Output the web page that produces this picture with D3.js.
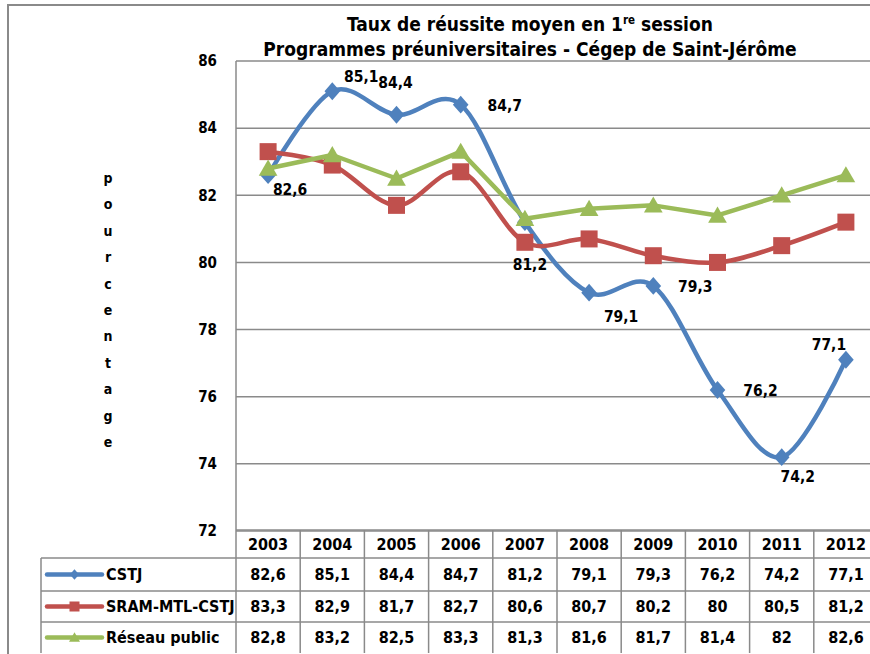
<!DOCTYPE html>
<html><head><meta charset="utf-8">
<script src="https://cdn.jsdelivr.net/npm/d3@7"></script>
<style>
html,body{margin:0;padding:0;background:#fff;}
svg{display:block;font-family:"DejaVu Sans Condensed","DejaVu Sans",sans-serif;font-weight:bold;}
</style></head>
<body>
<svg id="chart" width="870" height="654"></svg>
<script>
const years = ["2003","2004","2005","2006","2007","2008","2009","2010","2011","2012"];
const cstj = [82.6,85.1,84.4,84.7,81.2,79.1,79.3,76.2,74.2,77.1];
const sram = [83.3,82.9,81.7,82.7,80.6,80.7,80.2,80,80.5,81.2];
const reseau = [82.8,83.2,82.5,83.3,81.3,81.6,81.7,81.4,82,82.6];
const seriesNames = ["CSTJ","SRAM-MTL-CSTJ","Réseau public"];
const yTicks = [72,74,76,78,80,82,84,86];
const titleLines = ["Taux de réussite moyen en 1", "Programmes préuniversitaires - Cégep de Saint-Jérôme"];
const axisLabel = "pourcentage";
// label offsets for CSTJ data labels (layout only)
const labelOffsets = [[22,20],[29,-9],[-1,-27],[44,6],[5,48],[32,29],[42,6],[43,6],[16,25],[-17,-10]];

const colors = ["#4F81BD","#C0504D","#9BBB59"];
const grid = "#8a8a8a";
const svg = d3.select("#chart");

const x = d3.scaleBand().domain(years).range([236, 878]);
const y = d3.scaleLinear().domain([72,86]).range([531, 61]);
const cx = d => x(d) + x.bandwidth()/2;

// outer border
svg.append("rect").attr("x",8).attr("y",5).attr("width",900).attr("height",700)
  .attr("fill","none").attr("stroke",grid).attr("stroke-width",2);

// title
const t1 = svg.append("text").attr("x",530).attr("y",31).attr("text-anchor","middle")
  .attr("font-size",19).attr("fill","#000");
t1.append("tspan").text(titleLines[0]);
t1.append("tspan").attr("font-size",11.5).attr("dy",-7).text("re");
t1.append("tspan").attr("dy",7).text(" session");
svg.append("text").attr("x",530).attr("y",56).attr("text-anchor","middle")
  .attr("font-size",19).attr("fill","#000").text(titleLines[1]);

// gridlines
svg.append("g").selectAll("line").data(yTicks).join("line")
  .attr("x1",236).attr("x2",870).attr("y1",d=>y(d)).attr("y2",d=>y(d))
  .attr("stroke",grid).attr("stroke-width",1.5);
// y axis line
svg.append("line").attr("x1",236).attr("x2",236).attr("y1",y(86)).attr("y2",653)
  .attr("stroke",grid).attr("stroke-width",1.5);
// y tick labels
svg.append("g").selectAll("text").data(yTicks).join("text")
  .attr("x",217).attr("y",d=>y(d)).attr("dy","0.35em").attr("text-anchor","end")
  .attr("font-size",15).text(d=>d);
// axis title stacked letters
svg.append("g").selectAll("text").data(axisLabel.split("")).join("text")
  .attr("x",108).attr("y",(d,i)=>178 + i*26.4).attr("dy","0.35em").attr("text-anchor","middle")
  .attr("font-size",14).text(d=>d);

// marker generators
function marker(sel, type, s) {
  if (type === 0) {
    sel.append("path").attr("d", `M0,${-s*1.05}L${s*0.92},0L0,${s*1.05}L${-s*0.92},0Z`);
  } else if (type === 1) {
    sel.append("rect").attr("x",-s).attr("y",-s).attr("width",2*s).attr("height",2*s);
  } else {
    sel.append("path").attr("d", `M0,${-s*1.05}L${s*1.1},${s*0.85}L${-s*1.1},${s*0.85}Z`);
  }
}

const allSeries = [cstj, sram, reseau];
const curves = [d3.curveCardinal.tension(0), d3.curveCardinal.tension(0), d3.curveLinear];
[0,1,2].forEach(k => {
  const line = d3.line().x((d,i)=>cx(years[i])).y(d=>y(d)).curve(curves[k]);
  const g = svg.append("g");
  g.append("path").datum(allSeries[k]).attr("d", line).attr("fill","none")
    .attr("stroke",colors[k]).attr("stroke-width",4.5).attr("stroke-linejoin","round");
  allSeries[k].forEach((v,i) => {
    const m = g.append("g").attr("transform",`translate(${cx(years[i])},${y(v)})`).attr("fill",colors[k]);
    marker(m, k, 8.5);
  });
});

// CSTJ data labels
svg.append("g").selectAll("text").data(cstj).join("text")
  .attr("x",(d,i)=>cx(years[i]) + labelOffsets[i][0])
  .attr("y",(d,i)=>y(d) + labelOffsets[i][1])
  .attr("text-anchor","middle").attr("font-size",15.5)
  .text(d=>String(d).replace(".",","));

// data table
const rowTops = [530, 558, 591, 622, 653];
const tg = svg.append("g");
tg.append("line").attr("x1",236).attr("x2",870).attr("y1",530).attr("y2",530).attr("stroke",grid).attr("stroke-width",1.5);
[558,591,622].forEach(v=>tg.append("line").attr("x1",41).attr("x2",870).attr("y1",v).attr("y2",v).attr("stroke",grid).attr("stroke-width",1.5));
years.forEach(yr => {
  tg.append("line").attr("x1",x(yr)+x.bandwidth()).attr("x2",x(yr)+x.bandwidth()).attr("y1",530).attr("y2",653)
    .attr("stroke",grid).attr("stroke-width",1.5);
});
tg.append("line").attr("x1",41).attr("x2",41).attr("y1",558).attr("y2",653).attr("stroke",grid).attr("stroke-width",1.5);
tg.selectAll("text.yr").data(years).join("text").attr("class","yr")
  .attr("x",d=>cx(d)).attr("y",544).attr("dy","0.36em").attr("text-anchor","middle")
  .attr("font-size",16).text(d=>d);
allSeries.forEach((arr,k) => {
  const yc = (rowTops[k+1] + rowTops[k+2]) / 2;
  tg.append("g").selectAll("text").data(arr).join("text")
    .attr("x",(d,i)=>cx(years[i])).attr("y",yc).attr("dy","0.36em").attr("text-anchor","middle")
    .attr("font-size",16).text(d=>String(d).replace(".",","));
  tg.append("line").attr("x1",47).attr("x2",102).attr("y1",yc).attr("y2",yc)
    .attr("stroke",colors[k]).attr("stroke-width",4.5).attr("stroke-linecap","round");
  const m = tg.append("g").attr("transform",`translate(74.5,${yc})`).attr("fill",colors[k]);
  marker(m, k, 5);
  tg.append("text").attr("x",106).attr("y",yc).attr("dy","0.36em").attr("font-size",16)
    .text(seriesNames[k]);
});
</script>
</body></html>
